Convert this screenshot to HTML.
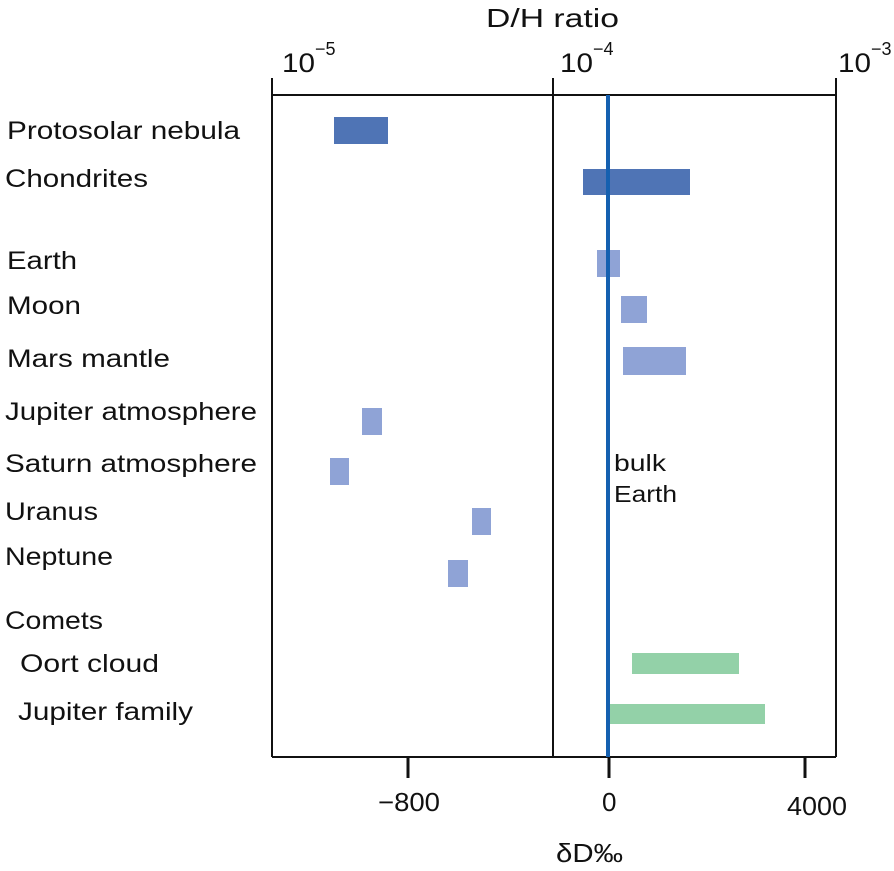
<!DOCTYPE html>
<html><head><style>
body{margin:0;background:#fff;}
svg text{font-family:"Liberation Sans",sans-serif;fill:#111;}
</style></head><body>
<svg width="894" height="866" xmlns="http://www.w3.org/2000/svg">
<g stroke="#111" stroke-width="2" fill="none">
<line x1="272" y1="95" x2="836" y2="95"/>
<line x1="272" y1="757" x2="836" y2="757"/>
<line x1="272" y1="78" x2="272" y2="757"/>
<line x1="836" y1="78" x2="836" y2="757"/>
<line x1="553" y1="78" x2="553" y2="757"/>
<line x1="408" y1="757" x2="408" y2="778" stroke-width="3"/>
<line x1="609" y1="757" x2="609" y2="778" stroke-width="3"/>
<line x1="805" y1="757" x2="805" y2="778" stroke-width="3"/>
</g>
<g fill="#4f74b5">
<rect x="334" y="117" width="54" height="27"/>
<rect x="583" y="169" width="107" height="26"/>
</g>
<g fill="#8fa3d6">
<rect x="597" y="250" width="23" height="27"/>
<rect x="621" y="296" width="26" height="27"/>
<rect x="623" y="347" width="63" height="28"/>
<rect x="362" y="408" width="20" height="27"/>
<rect x="330" y="458" width="19" height="27"/>
<rect x="472" y="508" width="19" height="27"/>
<rect x="448" y="560" width="20" height="27"/>
</g>
<g fill="#93d1a8">
<rect x="632" y="653" width="107" height="21"/>
<rect x="607" y="704" width="158" height="20"/>
</g>
<line x1="608" y1="95" x2="608" y2="757" stroke="#1560b0" stroke-width="4"/>
<text x="486" y="27" font-size="26" textLength="133" lengthAdjust="spacingAndGlyphs">D/H ratio</text>
<text x="282" y="72" font-size="27" textLength="33" lengthAdjust="spacingAndGlyphs">10</text><text x="315" y="55" font-size="18">−5</text>
<text x="560" y="72" font-size="27" textLength="33" lengthAdjust="spacingAndGlyphs">10</text><text x="593" y="55" font-size="18">−4</text>
<text x="838" y="72" font-size="27" textLength="33" lengthAdjust="spacingAndGlyphs">10</text><text x="871" y="55" font-size="18">−3</text>
<text x="378" y="811" font-size="26" textLength="62" lengthAdjust="spacingAndGlyphs">−800</text>
<text x="602" y="811" font-size="26">0</text>
<text x="787" y="815" font-size="26" textLength="60" lengthAdjust="spacingAndGlyphs">4000</text>
<text x="556" y="862" font-size="26" textLength="67" lengthAdjust="spacingAndGlyphs">δD‰</text>
<g font-size="25">
<text x="7" y="139" textLength="233" lengthAdjust="spacingAndGlyphs">Protosolar nebula</text>
<text x="5" y="187" textLength="143" lengthAdjust="spacingAndGlyphs">Chondrites</text>
<text x="7" y="269" textLength="70" lengthAdjust="spacingAndGlyphs">Earth</text>
<text x="7" y="314" textLength="74" lengthAdjust="spacingAndGlyphs">Moon</text>
<text x="7" y="367" textLength="163" lengthAdjust="spacingAndGlyphs">Mars mantle</text>
<text x="5" y="420" textLength="252" lengthAdjust="spacingAndGlyphs">Jupiter atmosphere</text>
<text x="5" y="472" textLength="252" lengthAdjust="spacingAndGlyphs">Saturn atmosphere</text>
<text x="5" y="520" textLength="93" lengthAdjust="spacingAndGlyphs">Uranus</text>
<text x="5" y="565" textLength="108" lengthAdjust="spacingAndGlyphs">Neptune</text>
<text x="5" y="629" textLength="98" lengthAdjust="spacingAndGlyphs">Comets</text>
<text x="20" y="672" textLength="139" lengthAdjust="spacingAndGlyphs">Oort cloud</text>
<text x="18" y="720" textLength="175" lengthAdjust="spacingAndGlyphs">Jupiter family</text>
</g>
<text x="614" y="471" font-size="23" textLength="52" lengthAdjust="spacingAndGlyphs">bulk</text>
<text x="614" y="502" font-size="23" textLength="63" lengthAdjust="spacingAndGlyphs">Earth</text>
</svg>
</body></html>
